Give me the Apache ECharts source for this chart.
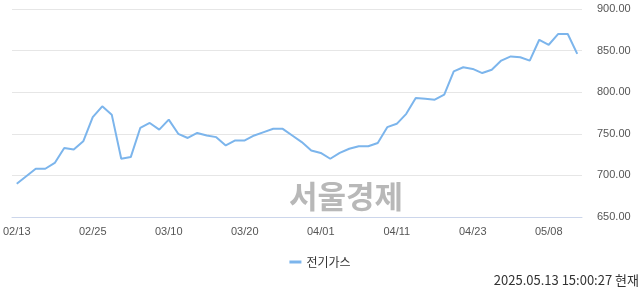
<!DOCTYPE html>
<html>
<head>
<meta charset="utf-8">
<script src="https://cdn.jsdelivr.net/npm/echarts@6/dist/echarts.min.js"></script>
<style>
html,body{margin:0;padding:0;background:#fff;}
#c{width:640px;height:294px;}
</style>
</head>
<body>
<div id="c"></div>
<script>
const categories = [
  '02/13','02/14','02/17','02/18','02/19','02/20','02/21','02/24','02/25','02/26',
  '02/27','02/28','03/04','03/05','03/06','03/07','03/10','03/11','03/12','03/13',
  '03/14','03/17','03/18','03/19','03/20','03/21','03/24','03/25','03/26','03/27',
  '03/28','03/31','04/01','04/02','04/03','04/04','04/07','04/08','04/09','04/10',
  '04/11','04/14','04/15','04/16','04/17','04/18','04/21','04/22','04/23','04/24',
  '04/25','04/28','04/29','04/30','05/02','05/07','05/08','05/09','05/12','05/13'
];
const seriesName = '전기가스';
const values = [
  690, 699, 708, 708, 715, 733, 731, 741, 770, 783,
  773, 720, 722, 757, 763, 755, 767, 750, 745, 751,
  748, 746, 736, 742, 742, 748, 752, 756, 756, 748,
  740, 730, 727, 720, 727, 732, 735, 735, 739, 758,
  762, 774, 793, 792, 791, 797, 825, 830, 828, 823,
  827, 838, 843, 842, 838, 863, 857, 870, 870, 846
];
const yTicks = [650, 700, 750, 800, 850, 900];
const watermark = '서울경제';
const timestamp = '2025.05.13 15:00:27 현재';

const chart = echarts.init(document.getElementById('c'), null, {renderer: 'canvas'});
chart.setOption({
  animation: false,
  grid: {left: 10, right: 58, top: 9, bottom: 77},
  xAxis: {
    type: 'category',
    data: categories,
    boundaryGap: true,
    axisLine: {lineStyle: {color: '#ccd6eb', width: 1}},
    axisTick: {alignWithLabel: true, interval: 7, length: 9, lineStyle: {color: '#ccd6eb'}},
    axisLabel: {interval: 7, margin: 9, color: '#555', fontSize: 11, fontFamily: 'Arial, Liberation Sans, sans-serif'},
    splitLine: {show: false}
  },
  yAxis: {
    type: 'value',
    position: 'right',
    min: yTicks[0],
    max: yTicks[yTicks.length - 1],
    interval: 50,
    axisLine: {show: false},
    axisTick: {show: false},
    axisLabel: {margin: 15, color: '#555', fontSize: 11, fontFamily: 'Arial, Liberation Sans, sans-serif',
      formatter: v => v.toFixed(2)},
    splitLine: {lineStyle: {color: '#e6e6e6', width: 1}}
  },
  legend: {
    data: [{name: seriesName, icon: 'rect'}],
    bottom: 21,
    left: 'center',
    itemWidth: 12,
    itemHeight: 3,
    itemGap: 6,
    textStyle: {color: '#333', fontSize: 12, fontFamily: 'Noto Sans CJK KR, sans-serif'}
  },
  graphic: [
    {type: 'text', left: 289, top: 181, silent: true, z: 0,
      style: {text: watermark, fill: '#b8b8b8', font: 'bold 31px "Noto Sans CJK KR", sans-serif'}},
    {type: 'text', right: 1, top: 274,
      style: {text: timestamp, fill: '#333', font: '13px "Noto Sans CJK KR", Arial, sans-serif'}}
  ],
  series: [{
    name: seriesName,
    type: 'line',
    data: values,
    symbol: 'none',
    z: 5,
    lineStyle: {color: '#7cb5ec', width: 2},
    itemStyle: {color: '#7cb5ec'}
  }]
});
</script>
</body>
</html>
